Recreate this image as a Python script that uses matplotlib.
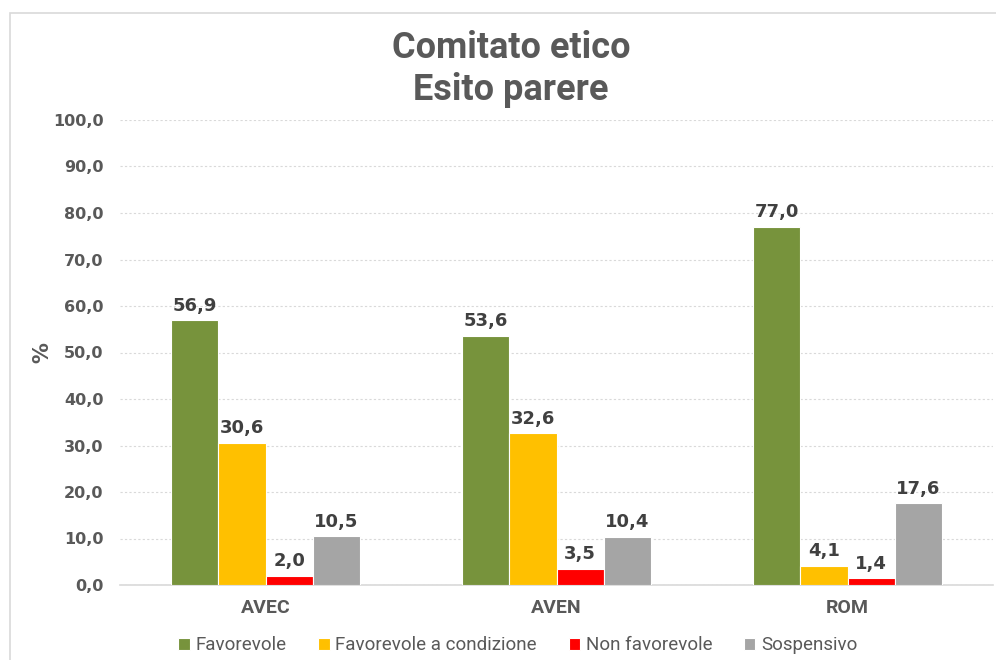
import matplotlib
matplotlib.use("Agg")
import matplotlib.pyplot as plt
import numpy as np
from matplotlib.patches import Rectangle

categories = ["AVEC", "AVEN", "ROM"]
series_names = ["Favorevole", "Favorevole a condizione", "Non favorevole", "Sospensivo"]
favorevole = [56.9, 53.6, 77.0]
favorevole_cond = [30.6, 32.6, 4.1]
non_favorevole = [2.0, 3.5, 1.4]
sospensivo = [10.5, 10.4, 17.6]
series_values = [favorevole, favorevole_cond, non_favorevole, sospensivo]
colors = ["#77933C", "#FFC000", "#FF0000", "#A5A5A5"]
yticks = np.arange(0, 101, 10)

narrow = "Roboto"

fig = plt.figure(figsize=(9.96, 6.6), dpi=100)
ax = fig.add_axes([120/996, 75/660, 873/996, 465/660])

# chart border
fig.add_artist(Rectangle((10/996, -0.01), 1.2, 1 - 13/660 + 0.01, transform=fig.transFigure,
                         fill=False, edgecolor="#D9D9D9", linewidth=1.2))

x = np.arange(len(categories))
w = 0.162
for i, (vals, col) in enumerate(zip(series_values, colors)):
    pos = x + (i - 1.5) * w
    ax.bar(pos, vals, width=w, color=col, edgecolor="white", linewidth=0.8,
           label=series_names[i], zorder=3)
    for p, v in zip(pos, vals):
        ax.text(p, v + 1.2, f"{v:.1f}".replace(".", ","), ha="center", va="bottom",
                fontsize=13, fontweight="bold", color="#404040", family="DejaVu Sans")

ax.set_xlim(-0.5, 2.5)
ax.set_ylim(0, 100)
ax.set_yticks(yticks)
ax.set_yticklabels([f"{t:.1f}".replace(".", ",") for t in yticks], fontsize=11.5,
                   fontweight="bold", color="#595959", family="DejaVu Sans")
ax.set_xticks(x)
ax.set_xticklabels(categories, fontsize=14, fontweight="bold", color="#595959", family=narrow)
ax.tick_params(axis="both", length=0)
ax.tick_params(axis="y", pad=12)
ax.tick_params(axis="x", pad=10)
ax.grid(axis="y", color="#D9D9D9", linestyle=(0, (2, 2)), linewidth=0.8, zorder=0)
for s in ["top", "right", "left"]:
    ax.spines[s].set_visible(False)
ax.spines["bottom"].set_color("#D9D9D9")
ax.spines["bottom"].set_linewidth(1.2)
ax.set_ylabel("%", fontsize=15, fontweight="bold", color="#595959", family="DejaVu Sans", labelpad=0)

fig.text(0.513, 0.895, "Comitato etico\nEsito parere", ha="center", va="center",
         fontsize=26, fontweight="bold", color="#595959", family=narrow, linespacing=1.2)

leg = fig.legend(loc="center", bbox_to_anchor=(0.52, 0.022), ncol=4, frameon=False,
                 prop={"family": narrow, "size": 13.5}, handlelength=0.6, handleheight=0.6,
                 handletextpad=0.3, columnspacing=1.7)
for t in leg.get_texts():
    t.set_color("#595959")

fig.savefig("out.png", dpi=100)
